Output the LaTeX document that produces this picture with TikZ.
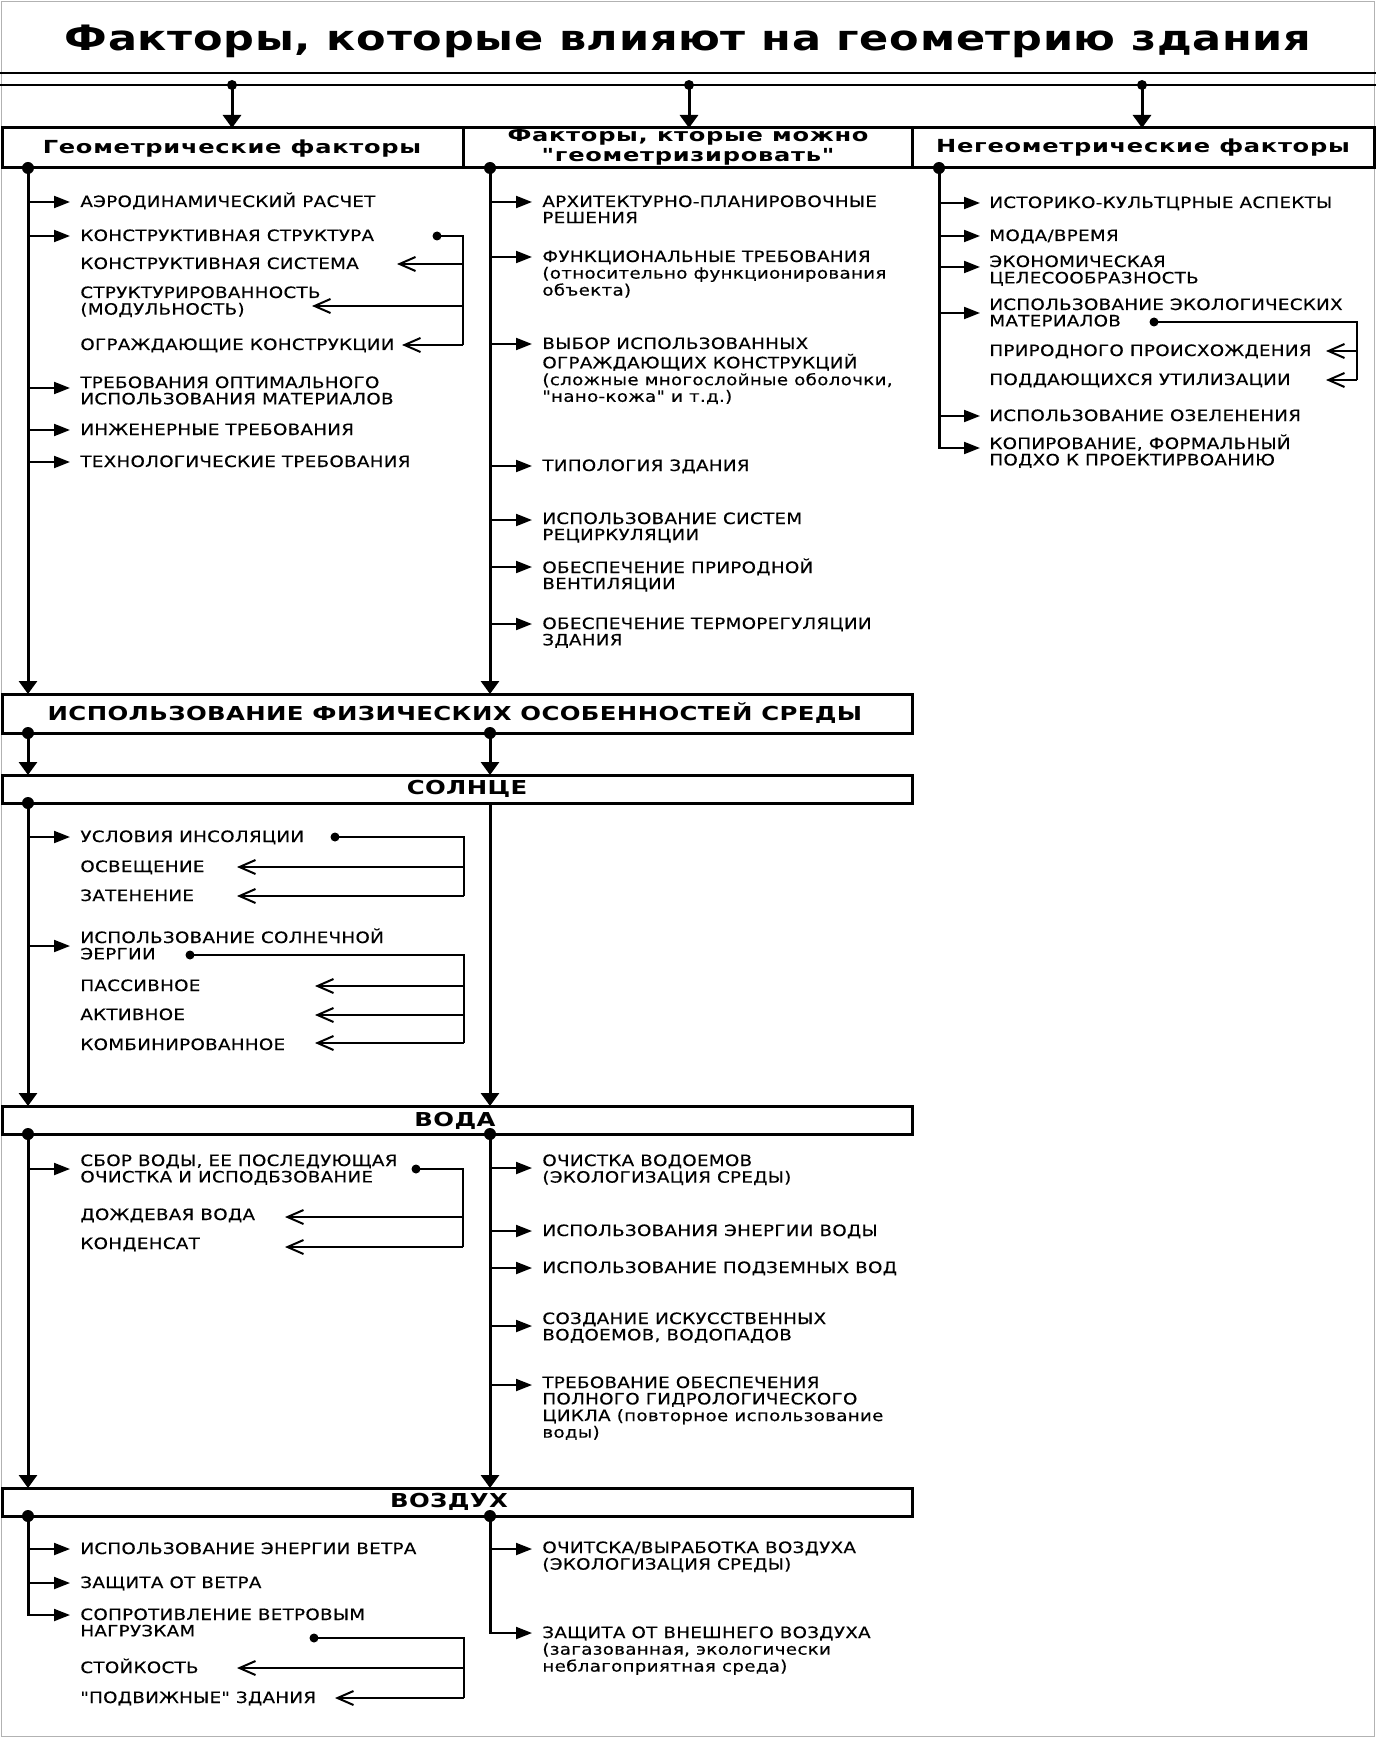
\documentclass[tikz,border=0pt]{standalone}
\usepackage{fontspec}
\setmainfont{DejaVu Sans}
\newfontfamily\itf[FakeStretch=1.17,LetterSpace=2,FakeBold=0.4]{DejaVu Sans}
\newfontfamily\hdf[FakeStretch=1.34,LetterSpace=4]{DejaVu Sans}
\newfontfamily\sef[FakeStretch=1.27,LetterSpace=2]{DejaVu Sans}
\newfontfamily\ttf[FakeStretch=1.23,LetterSpace=2]{DejaVu Sans}
\usetikzlibrary{arrows.meta}
\newcommand\ml[1]{\begin{tabular}[t]{@{}l@{}}#1\end{tabular}}
\tikzset{
 item/.style={anchor=base west, inner sep=0pt, font=\itf\fontsize{7.8pt}{8pt}\selectfont},
 hdr/.style={inner sep=0pt, align=center, font=\hdf\bfseries\fontsize{9pt}{10pt}\selectfont},
 sec/.style={inner sep=0pt, font=\sef\bfseries\fontsize{9.6pt}{10pt}\selectfont},
 col/.style={line width=1.5pt},
 br/.style={line width=1pt, -{Triangle[length=8pt,width=6pt]}},
 subar/.style={line width=1pt, -{Straight Barb[length=8pt,width=7pt]}},
 brk/.style={line width=1pt},
 down/.style={line width=1.5pt, -{Triangle[length=6.5pt,width=9pt]}},
 bigdot/.style={circle, fill, inner sep=0pt, minimum size=6pt},
 smalldot/.style={circle, fill, inner sep=0pt, minimum size=4.5pt},
 box/.style={draw, line width=1.5pt},
}
\begin{document}
\begin{tikzpicture}[x=0.5pt,y=-0.5pt]
\useasboundingbox (0,0) rectangle (1376,1738);
\fill[white] (0,0) rectangle (1376,1738);
\draw[gray!60, line width=0.6pt] (1.5,1.5) rectangle (1374.5,1736.5);
% title
\node[inner sep=0pt, font=\ttf\bfseries\fontsize{17.5pt}{20pt}\selectfont] (title) at (688,41) {Факторы, которые влияют на геометрию здания};
\draw[line width=1pt] (0,73) -- (1376,73);
\draw[line width=1.2pt] (0,85) -- (1376,85);
\node[bigdot, minimum size=5pt] (t1) at (232,85) {};
\node[bigdot, minimum size=5pt] (t2) at (689,85) {};
\node[bigdot, minimum size=5pt] (t3) at (1142,85) {};
% header boxes
\draw[box] (2,128) rectangle (1374,168);
\draw[line width=1.5pt] (463,128) -- (463,168);
\draw[line width=1.5pt] (912,128) -- (912,168);
\coordinate (h1) at (232,128);
\coordinate (h2) at (689,128);
\coordinate (h3) at (1142,128);
\draw[down] (t1.center) -- (h1);
\draw[down] (t2.center) -- (h2);
\draw[down] (t3.center) -- (h3);
\node[hdr] (H1) at (232,149) {Геометрические факторы};
\node[hdr] (H2a) at (688,137) {Факторы, кторые можно};
\node[hdr] (H2b) at (688,157) {"геометризировать"};
\node[hdr] (H3) at (1143,148) {Негеометрические факторы};
% column dots
\node[bigdot] (cL) at (28,168) {};
\node[bigdot] (cM) at (490,168) {};
\node[bigdot] (cR) at (939,168) {};
% ===== left column
\coordinate (pL) at (28,694);
\coordinate (pM) at (490,694);
\draw[down] (cL.center) -- (pL);
\draw[down] (cM.center) -- (pM);
\node[item] (L1) at (80,207) {АЭРОДИНАМИЧЕСКИЙ РАСЧЕТ};
\node[item] (L2) at (80,241) {КОНСТРУКТИВНАЯ СТРУКТУРА};
\node[item] (L3) at (80,269) {КОНСТРУКТИВНАЯ СИСТЕМА};
\node[item] (L4) at (80,298) {\ml{СТРУКТУРИРОВАННОСТЬ\\(МОДУЛЬНОСТЬ)}};
\node[item] (L5) at (80,350) {ОГРАЖДАЮЩИЕ КОНСТРУКЦИИ};
\node[item] (L6) at (80,388) {\ml{ТРЕБОВАНИЯ ОПТИМАЛЬНОГО\\ИСПОЛЬЗОВАНИЯ МАТЕРИАЛОВ}};
\node[item] (L7) at (80,435) {ИНЖЕНЕРНЫЕ ТРЕБОВАНИЯ};
\node[item] (L8) at (80,467) {ТЕХНОЛОГИЧЕСКИЕ ТРЕБОВАНИЯ};
\draw[br] (28,202) -- (70,202);
\draw[br] (28,236) -- (70,236);
\draw[br] (28,388) -- (70,388);
\draw[br] (28,430) -- (70,430);
\draw[br] (28,462) -- (70,462);
\node[smalldot] (dL2) at (437,236) {};
\draw[brk] (dL2.center) -- (463,236) -- (463,345);
\draw[subar] (463,264) -- (397,264);
\draw[subar] (463,306) -- (312,306);
\draw[subar] (463,345) -- (402,345);
% ===== middle column
\node[item] (M1) at (542,207) {\ml{АРХИТЕКТУРНО-ПЛАНИРОВОЧНЫЕ\\РЕШЕНИЯ}};
\node[item] (M2) at (542,262) {\ml{ФУНКЦИОНАЛЬНЫЕ ТРЕБОВАНИЯ\\(относительно функционирования\\объекта)}};
\node[item] (M3) at (542,349) {\ml{ВЫБОР ИСПОЛЬЗОВАННЫХ\\ОГРАЖДАЮЩИХ КОНСТРУКЦИЙ\\(сложные многослойные оболочки,\\"нано-кожа" и т.д.)}};
\node[item] (M4) at (542,471) {ТИПОЛОГИЯ ЗДАНИЯ};
\node[item] (M5) at (542,524) {\ml{ИСПОЛЬЗОВАНИЕ СИСТЕМ\\РЕЦИРКУЛЯЦИИ}};
\node[item] (M6) at (542,573) {\ml{ОБЕСПЕЧЕНИЕ ПРИРОДНОЙ\\ВЕНТИЛЯЦИИ}};
\node[item] (M7) at (542,629) {\ml{ОБЕСПЕЧЕНИЕ ТЕРМОРЕГУЛЯЦИИ\\ЗДАНИЯ}};
\foreach \y in {202,257,344,466,520,567,624} \draw[br] (490,\y) -- (532,\y);
% ===== right column
\node[item] (R1) at (989,208) {ИСТОРИКО-КУЛЬТЦРНЫЕ АСПЕКТЫ};
\node[item] (R2) at (989,241) {МОДА/ВРЕМЯ};
\node[item] (R3) at (989,267) {\ml{ЭКОНОМИЧЕСКАЯ\\ЦЕЛЕСООБРАЗНОСТЬ}};
\node[item] (R4) at (989,310) {\ml{ИСПОЛЬЗОВАНИЕ ЭКОЛОГИЧЕСКИХ\\МАТЕРИАЛОВ}};
\node[item] (R5) at (989,356) {ПРИРОДНОГО ПРОИСХОЖДЕНИЯ};
\node[item] (R6) at (989,385) {ПОДДАЮЩИХСЯ УТИЛИЗАЦИИ};
\node[item] (R7) at (989,421) {ИСПОЛЬЗОВАНИЕ ОЗЕЛЕНЕНИЯ};
\node[item] (R8) at (989,449) {\ml{КОПИРОВАНИЕ, ФОРМАЛЬНЫЙ\\ПОДХО К ПРОЕКТИРВОАНИЮ}};
\draw[col] (cR.center) -- (939,448);
\draw[br] (938.25,448) -- (980,448);
\foreach \y in {203,236,267,313,416} \draw[br] (939,\y) -- (980,\y);
\node[smalldot] (dR4) at (1154,322) {};
\draw[brk] (dR4.center) -- (1357,322) -- (1357,380);
\draw[subar] (1357,351) -- (1326,351);
\draw[subar] (1357,380) -- (1326,380);
% ===== big box
\draw[box] (2,694) rectangle (912,733);
\node[sec] (P) at (455,713) {ИСПОЛЬЗОВАНИЕ ФИЗИЧЕСКИХ ОСОБЕННОСТЕЙ СРЕДЫ};
\node[bigdot] (pL2) at (28,733) {};
\node[bigdot] (pM2) at (490,733) {};
\coordinate (sL) at (28,775);
\coordinate (sM) at (490,775);
\draw[down] (pL2.center) -- (sL);
\draw[down] (pM2.center) -- (sM);
% ===== SUN
\draw[box] (2,775) rectangle (912,803);
\node[sec] (S) at (467,789) {СОЛНЦЕ};
\node[bigdot] (sL2) at (28,803) {};
\coordinate (sM2) at (490,803);
\coordinate (wL) at (28,1106);
\coordinate (wM) at (490,1106);
\draw[down] (sL2.center) -- (wL);
\draw[down] (sM2) -- (wM);
\node[item] (S1) at (80,842) {УСЛОВИЯ ИНСОЛЯЦИИ};
\node[item] (S2) at (80,872) {ОСВЕЩЕНИЕ};
\node[item] (S3) at (80,901) {ЗАТЕНЕНИЕ};
\node[item] (S4) at (80,943) {\ml{ИСПОЛЬЗОВАНИЕ СОЛНЕЧНОЙ\\ЭЕРГИИ}};
\node[item] (S5) at (80,991) {ПАССИВНОЕ};
\node[item] (S6) at (80,1020) {АКТИВНОЕ};
\node[item] (S7) at (80,1050) {КОМБИНИРОВАННОЕ};
\draw[br] (28,837) -- (70,837);
\draw[br] (28,946) -- (70,946);
\node[smalldot] (dS1) at (335,837) {};
\draw[brk] (dS1.center) -- (464,837) -- (464,896);
\draw[subar] (464,867) -- (237,867);
\draw[subar] (464,896) -- (237,896);
\node[smalldot] (dS4) at (190,955) {};
\draw[brk] (dS4.center) -- (464,955) -- (464,1043);
\draw[subar] (464,986) -- (315,986);
\draw[subar] (464,1015) -- (315,1015);
\draw[subar] (464,1043) -- (315,1043);
% ===== WATER
\draw[box] (2,1106) rectangle (912,1134);
\node[sec] (W) at (455,1121) {ВОДА};
\node[bigdot] (wL2) at (28,1134) {};
\node[bigdot] (wM2) at (490,1134) {};
\coordinate (aL) at (28,1488);
\coordinate (aM) at (490,1488);
\draw[down] (wL2.center) -- (aL);
\draw[down] (wM2.center) -- (aM);
\node[item] (W1) at (80,1166) {\ml{СБОР ВОДЫ, ЕЕ ПОСЛЕДУЮЩАЯ\\ОЧИСТКА И ИСПОДБЗОВАНИЕ}};
\node[item] (W2) at (80,1220) {ДОЖДЕВАЯ ВОДА};
\node[item] (W3) at (80,1249) {КОНДЕНСАТ};
\draw[br] (28,1169) -- (70,1169);
\node[smalldot] (dW1) at (416,1169) {};
\draw[brk] (dW1.center) -- (463,1169) -- (463,1247);
\draw[subar] (463,1217) -- (285,1217);
\draw[subar] (463,1247) -- (285,1247);
\node[item] (W4) at (542,1166) {\ml{ОЧИСТКА ВОДОЕМОВ\\(ЭКОЛОГИЗАЦИЯ СРЕДЫ)}};
\node[item] (W5) at (542,1236) {ИСПОЛЬЗОВАНИЯ ЭНЕРГИИ ВОДЫ};
\node[item] (W6) at (542,1273) {ИСПОЛЬЗОВАНИЕ ПОДЗЕМНЫХ ВОД};
\node[item] (W7) at (542,1324) {\ml{СОЗДАНИЕ ИСКУССТВЕННЫХ\\ВОДОЕМОВ, ВОДОПАДОВ}};
\node[item] (W8) at (542,1388) {\ml{ТРЕБОВАНИЕ ОБЕСПЕЧЕНИЯ\\ПОЛНОГО ГИДРОЛОГИЧЕСКОГО\\ЦИКЛА (повторное использование\\воды)}};
\foreach \y in {1168,1231,1268,1326,1385} \draw[br] (490,\y) -- (532,\y);
% ===== AIR
\draw[box] (2,1488) rectangle (912,1516);
\node[sec] (A) at (449,1502) {ВОЗДУХ};
\node[bigdot] (aL2) at (28,1516) {};
\node[bigdot] (aM2) at (490,1516) {};
\draw[col] (aL2.center) -- (28,1615);
\draw[br] (27.25,1615) -- (70,1615);
\draw[br] (28,1549) -- (70,1549);
\draw[br] (28,1583) -- (70,1583);
\node[item] (A1) at (80,1554) {ИСПОЛЬЗОВАНИЕ ЭНЕРГИИ ВЕТРА};
\node[item] (A2) at (80,1588) {ЗАЩИТА ОТ ВЕТРА};
\node[item] (A3) at (80,1620) {\ml{СОПРОТИВЛЕНИЕ ВЕТРОВЫМ\\НАГРУЗКАМ}};
\node[item] (A4) at (80,1673) {СТОЙКОСТЬ};
\node[item] (A5) at (80,1703) {"ПОДВИЖНЫЕ" ЗДАНИЯ};
\node[smalldot] (dA3) at (314,1638) {};
\draw[brk] (dA3.center) -- (464,1638) -- (464,1698);
\draw[subar] (464,1668) -- (237,1668);
\draw[subar] (464,1698) -- (335,1698);
\draw[col] (aM2.center) -- (490,1633);
\draw[br] (489.25,1633) -- (532,1633);
\draw[br] (490,1549) -- (532,1549);
\node[item] (A6) at (542,1553) {\ml{ОЧИТСКА/ВЫРАБОТКА ВОЗДУХА\\(ЭКОЛОГИЗАЦИЯ СРЕДЫ)}};
\node[item] (A7) at (542,1638) {\ml{ЗАЩИТА ОТ ВНЕШНЕГО ВОЗДУХА\\(загазованная, экологически\\неблагоприятная среда)}};
\end{tikzpicture}
\end{document}
